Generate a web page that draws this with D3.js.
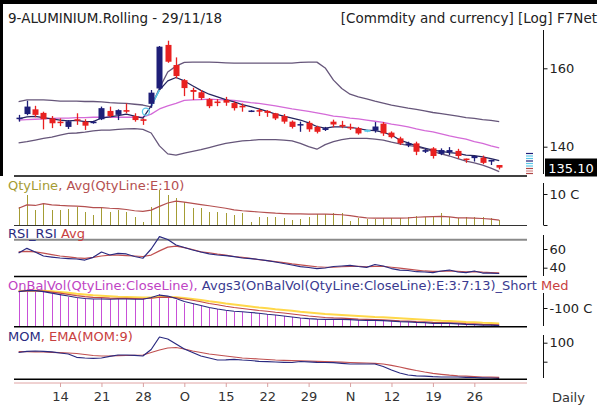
<!DOCTYPE html>
<html>
<head>
<meta charset="utf-8">
<script src="https://cdnjs.cloudflare.com/ajax/libs/d3/7.8.5/d3.min.js"></script>
<style>
body{margin:0;background:#fff;}
svg{display:block;font-family:"DejaVu Sans",Verdana,sans-serif;}
</style>
</head>
<body>
<div id="chart"></div>
<script>
// trading days shown on the chart
var dates = ["09-07","09-10","09-11","09-12","09-13","09-14","09-17","09-18","09-19","09-20",
  "09-21","09-24","09-25","09-26","09-27","09-28","10-01","10-02","10-03","10-04",
  "10-08","10-09","10-10","10-11","10-12","10-15","10-16","10-17","10-18","10-19",
  "10-22","10-23","10-24","10-25","10-26","10-29","10-30","10-31","11-01","11-02",
  "11-05","11-06","11-07","11-08","11-09","11-12","11-13","11-14","11-15","11-16",
  "11-19","11-20","11-21","11-22","11-23","11-26","11-27","11-28","11-29"];
var tickDates = ["09-14","09-21","09-28","10-08","10-15","10-22","10-29","11-05","11-12","11-19","11-26"];
var tickText = ["14","21","28","O","15","22","29","N","12","19","26"];

// candles
var open  = [146.8,148.0,149.2,148.3,146.9,146.1,144.8,146.7,146.1,145.8, 146.7,148.8,147.8,149.0,147.5,146.7,150.6,154.6,166.5,160.9,
  156.8,154.2,153.6,151.8,151.2,151.6,150.8,150.1,148.6,149.0, 148.8,148.2,147.5,146.1,145.2,145.8,144.8,144.05,146.1,145.3,
  144.8,144.5,144.05,143.9,145.6,143.4,142.0,140.4,140.8,138.8, 139.6,138.3,138.7,139.0,137.2,137.3,137.4,136.5,135.7];
var high  = [147.8,151.4,150.1,148.6,147.5,146.9,146.5,148.2,146.7,146.3, 149.9,149.9,149.2,150.7,148.2,146.9,154.2,166.2,167.7,163.0,
  157.1,154.8,154.2,152.1,151.8,152.4,151.2,150.7,149.0,149.4, 149.0,148.3,148.0,146.4,146.1,146.3,145.1,144.8,146.6,146.3,
  145.6,144.8,144.2,146.0,146.0,143.7,142.4,141.2,141.2,139.6, 139.9,139.6,139.9,139.5,137.2,137.8,137.9,136.9,135.7];
var low   = [146.1,147.7,147.2,144.2,144.5,145.0,144.3,145.3,144.05,145.6, 146.5,147.2,146.5,148.2,146.1,145.3,149.6,154.3,161.5,157.3,
  152.6,151.6,151.6,149.5,150.0,150.1,148.9,148.6,148.5,147.5, 147.3,146.5,145.6,144.4,143.6,143.6,143.2,143.8,144.7,144.5,
  144.05,142.9,143.5,143.4,142.6,142.0,140.4,139.9,138.0,138.5, 137.2,138.0,138.0,137.2,136.2,136.5,135.9,135.7,134.7];
var close = [147.1,149.9,147.8,146.7,145.7,145.8,146.2,146.4,145.1,146.1, 149.5,147.5,149.0,148.6,146.5,146.3,153.5,166.0,161.8,157.9,
  154.7,153.7,152.1,150.0,150.8,150.9,149.5,149.7,148.9,148.6, 148.3,146.9,146.1,144.8,145.5,144.2,143.6,144.5,145.4,144.9,
  144.5,143.2,143.6,144.9,143.2,142.3,140.8,140.8,138.8,139.2, 137.8,139.2,139.2,137.8,136.9,137.8,136.2,136.9,135.1];
var flagDays = ["11-07"];

// bands and average on the price panel
var upper = [151.2,151.6,151.6,151.6,151.5,151.3,151.3,151.3,151.2,151.2, 151.1,150.9,150.8,150.7,150.5,150.3,149.8,154.7,159.0,160.6,
  161.6,161.7,161.7,161.7,161.6,161.5,161.4,161.4,161.4,161.4, 161.4,161.4,161.4,161.4,161.6,161.7,161.7,160.1,156.8,154.6,
  153.1,152.4,151.9,151.3,150.8,150.3,149.9,149.5,149.2,148.8, 148.4,148.1,147.8,147.5,147.1,146.9,146.6,146.4,146.1];
var middle = [146.5,146.6,146.7,146.8,146.9,147.0,147.0,147.1,147.1,147.2, 147.2,147.2,147.2,147.2,147.2,147.2,148.0,149.3,150.1,150.7,
  151.5,151.6,151.7,151.8,151.7,151.6,151.5,151.2,150.9,150.7, 150.4,150.1,149.7,149.3,149.0,148.7,148.3,147.9,147.5,147.3,
  147.0,146.8,146.5,146.2,145.9,145.5,145.2,144.8,144.3,143.9, 143.6,143.1,142.6,142.2,141.8,141.2,140.8,140.2,139.7];
var lower = [140.9,141.2,141.6,142.0,142.3,142.8,143.2,143.3,143.5,143.8, 144.0,144.0,144.2,144.3,144.4,144.2,143.3,140.2,138.3,138.0,
  138.5,138.9,139.3,139.8,140.3,140.8,141.1,141.4,141.5,141.7, 141.7,141.7,141.6,141.4,140.8,140.0,139.4,140.5,141.2,141.7,
  142.0,142.0,142.0,141.8,141.6,141.1,140.7,140.3,140.0,139.5, 138.9,138.3,137.8,137.2,136.6,136.2,135.7,135.0,134.2];
var avgLine = [146.8,147.3,147.4,147.1,146.8,146.5,146.3,146.4,146.1,146.1, 147.0,147.3,147.6,148.0,147.5,147.0,150.1,154.2,156.6,157.5,
  156.6,155.3,154.1,153.1,152.4,151.7,151.1,150.4,149.9,149.3, 148.7,148.0,147.5,147.0,146.5,145.8,144.9,144.5,144.8,144.8,
  144.7,144.4,144.0,143.9,143.5,142.8,141.6,140.9,140.2,139.7, 139.2,138.9,138.6,138.4,138.0,137.9,137.6,137.2,136.7];
var cyanSegs = [["10-01","10-02"]];
var signalDay = "09-28", signalValue = 148.6;
var lastPrice = 135.10;

// QtyLine
var qty = [5.9,9.7,4.8,7.0,4.8,4.8,5.1,5.9,4.3,3.2, 5.7,4.3,4.8,4.3,2.7,1.1,5.9,11.3,9.7,8.6, 7.5,5.4,5.4,4.3,4.3,3.8,3.2,3.8,1.1,2.7,
  2.7,2.7,2.2,1.6,2.0,2.7,3.5,3.5,3.8,3.8, 1.3,2.2,1.9,1.9,2.2,2.2,2.2,2.7,3.0,2.5, 2.7,3.8,2.5,2.2,2.5,2.5,2.5,2.2,1.6];
var qtyAvg = [5.4,6.5,6.3,6.9,6.5,6.3,6.2,6.1,5.9,5.6, 5.6,5.4,5.3,5.0,4.6,4.4,4.8,6.0,7.1,7.7, 7.4,7.0,6.6,6.2,5.8,5.4,4.9,4.6,4.4,4.2,
  4.0,3.8,3.7,3.6,3.6,3.5,3.5,3.5,3.4,3.3, 3.0,2.6,2.3,2.2,2.2,2.2,2.2,2.3,2.5,2.6, 2.7,2.8,2.6,2.3,2.3,2.2,2.1,1.9,1.6];

// RSI
var rsi = [55.7,60.7,56.8,52.5,51.4,50.4,49.8,49.3,48.2,51.1, 56.8,53.6,55.4,54.7,52.0,50.1,60.0,73.2,70.2,64.3,
  61.6,58.9,56.8,54.7,53.6,53.0,51.8,50.4,49.8,48.8, 47.5,46.1,44.5,42.9,41.1,40.2,39.1,39.7,41.3,41.8,
  42.4,41.3,40.4,43.4,41.8,39.1,37.5,37.0,35.7,35.4, 34.7,36.5,37.5,35.4,34.7,36.5,34.3,34.3,33.8];
var rsiAvg = [57,57.5,57,55.5,54,52.5,51.5,50.5,50,51, 52.5,53.5,53.5,53,52.5,52,53.5,58,62,63,
  61.5,59.5,57,56,54.5,53.5,52,51,50,48.5, 47.5,46.5,45.5,44,43,42,41,40.5,40.5,41,
  41.5,41.5,41,41.5,41.5,40.5,39.5,38.5,37.5,36.5, 36,36,36.5,36,35.5,35.8,35.2,34.8,34.5];

// On balance volume and its three averages
var obv = [-31,-25,-28,-35,-44,-48,-55,-61,-61,-65, -61,-65,-61,-61,-65,-65,-55,-45,-55,-68, -79,-85,-92,-101,-105,-111,-115,-115,-119,-121,
  -125,-128,-132,-137,-142,-144,-146,-146,-146,-146, -148,-150,-150,-150,-152,-154,-156,-156,-160,-160, -164,-162,-162,-166,-168,-167,-170,-169,-172];
var obvShort = [-34,-30,-30,-34,-40,-46,-52,-58,-62,-64, -64,-65,-64,-64,-65,-65,-58,-48,-52,-62, -74,-82,-90,-98,-104,-109,-113,-115,-118,-121,
  -125,-128,-132,-136,-140,-143,-145,-146,-146,-146, -147,-149,-150,-150,-151,-153,-155,-156,-158,-159, -162,-162,-162,-164,-166,-167,-169,-169,-171];
var obvMed = [-33,-31,-30,-32,-36,-40,-45,-50,-54,-57, -58,-60,-61,-61,-62,-63,-61,-57,-56,-59, -64,-69,-75,-82,-87,-93,-98,-102,-106,-110,
  -113,-117,-120,-124,-128,-132,-135,-138,-140,-141, -143,-145,-146,-147,-148,-150,-152,-153,-155,-156, -158,-159,-160,-161,-163,-164,-166,-167,-168];
var obvLong = [-32,-31,-30,-31,-33,-36,-39,-43,-46,-49, -51,-53,-55,-56,-57,-58,-58,-56,-56,-57, -60,-64,-68,-73,-77,-82,-86,-90,-94,-98,
  -101,-105,-108,-111,-115,-118,-121,-124,-126,-128, -130,-132,-134,-136,-137,-139,-141,-143,-145,-147, -149,-151,-152,-154,-156,-157,-159,-160,-162];

// momentum
var mom = [48.4,54.7,56.3,54.7,52.1,45.8,40.5,23.2,19.5,17.9, 19.5,28.4,35.3,35.3,33.7,30,64.2,130,119.5,93.2,
  66.8,48.4,30,19.5,8.9,10,12.6,8.9,6.3,2.1, 0,-1.6,-3.2,-4.2,1.1,-0.5,-3.2,-4.2,-5.3,-8.4,
  -12.1,-12.1,-12.1,-12.1,-25.3,-43.7,-59.5,-70,-74.2,-76.3, -79,-80.5,-80.5,-80.5,-82.1,-83.2,-84.7,-85.8,-87.4];
var momEma = [52.6,52.6,52.1,51,49.5,47.4,45.8,43.2,37.9,32.6, 30,30,31.6,32.6,33.7,35.3,48.4,61.6,72.1,74.7,
  66.8,56.3,48.4,40.5,35.3,30,24.7,19.5,16.8,14.2, 11.6,8.9,7.4,5.8,4.7,3.7,2.1,1.1,-0.5,-2.6,
  -4.2,-5.8,-6.8,-8.4,-12.1,-18.9,-27.9,-37.4,-46.3,-54.2, -61,-66.3,-71,-74.2,-76.3,-78.4,-80.5,-81.6,-82.1];

var W = 600, H = 411;
var left = 14, right = 527, axisX = 543;
var NAVY = "#1e1e78", RED = "#e82020", CYAN = "#5cc8e8";

var svg = d3.select("#chart").append("svg")
	.attr("width", W)
	.attr("height", H);

var x = d3.scalePoint().domain(dates).range([18.6, 499.2]);
var yP = d3.scaleLog().domain([140, 160]).range([146.7, 68.3]);
var yQ = d3.scaleLinear().domain([0, 10]).range([225, 194]);
var yR = d3.scaleLinear().domain([40, 60]).range([267.7, 249]);
var yO = d3.scaleLinear().domain([-175, -100]).range([326.7, 308]);
var yM = d3.scaleLinear().domain([0, 100]).range([361.7, 342.7]);

function xr(d){ return Math.round(x(d)) + 0.5; }

function drawLine(yS, vals, col, w){
	svg.append("path")
		.datum(vals)
		.attr("fill", "none")
		.attr("stroke", col)
		.attr("stroke-width", w || 1.2)
		.attr("stroke-linejoin", "round")
		.attr("d", d3.line()
			.x(function(d, i){ return x(dates[i]); })
			.y(function(d){ return yS(d); }));
}

function hline(y, col, w){
	svg.append("line")
		.attr("x1", left).attr("x2", right)
		.attr("y1", y).attr("y2", y)
		.attr("stroke", col).attr("stroke-width", w);
}

// thin vertical bars from a base value
function bars(yS, vals, base, col){
	svg.append("g").selectAll("line")
		.data(vals)
	  .enter().append("line")
		.attr("x1", function(d, i){ return xr(dates[i]); })
		.attr("x2", function(d, i){ return xr(dates[i]); })
		.attr("y1", yS(base))
		.attr("y2", function(d){ return yS(d); })
		.attr("stroke", col)
		.attr("stroke-width", 1)
		.attr("shape-rendering", "crispEdges");
}

function sideAxis(yS, vals, labels, top, bottom){
	svg.append("line")
		.attr("x1", axisX + 0.5).attr("x2", axisX + 0.5)
		.attr("y1", top).attr("y2", bottom)
		.attr("stroke", "#111");
	var g = svg.append("g")
		.attr("transform", "translate(" + (axisX + 0.5) + ",0)")
		.call(d3.axisRight(yS).tickValues(vals).tickSize(4).tickPadding(2)
			.tickFormat(function(d, i){ return labels[i]; }));
	g.select(".domain").remove();
	g.selectAll("line").attr("stroke", "#111");
	g.selectAll("text").attr("fill", "#222").style("font-size", "13px")
		.style("font-family", "'DejaVu Sans',Verdana,sans-serif");
}

function title(y, parts){
	var t = svg.append("text").attr("x", 8).attr("y", y).style("font-size", "13px");
	parts.forEach(function(p){
		t.append("tspan").attr("fill", p[1]).text(p[0]);
	});
}

// frame
svg.append("rect").attr("x", 0).attr("y", 0).attr("width", 597).attr("height", 4).attr("fill", "#000");
svg.append("rect").attr("x", 0).attr("y", 0).attr("width", 3).attr("height", 176).attr("fill", "#000");

// ---- price panel
drawLine(yP, upper, "#66567a", 1.3);
drawLine(yP, lower, "#66567a", 1.3);
drawLine(yP, middle, "#d46ad8", 1.3);
drawLine(yP, avgLine, "#24245e", 1.2);

cyanSegs.forEach(function(s){
	var i0 = dates.indexOf(s[0]), i1 = dates.indexOf(s[1]);
	svg.append("line")
		.attr("x1", x(s[0])).attr("y1", yP(avgLine[i0]))
		.attr("x2", x(s[1])).attr("y2", yP(avgLine[i1]))
		.attr("stroke", CYAN).attr("stroke-width", 1.6);
});
svg.append("circle")
	.attr("cx", x(signalDay) + 3).attr("cy", yP(signalValue)).attr("r", 3.5)
	.attr("fill", "none").attr("stroke", CYAN).attr("stroke-width", 1.3);

var candles = dates.map(function(d, i){
	return {d: d, o: open[i], h: high[i], l: low[i], c: close[i]};
});
function ccol(d){
	if (flagDays.indexOf(d.d) >= 0) return CYAN;
	return d.c >= d.o ? NAVY : RED;
}
var cg = svg.append("g");
cg.selectAll("line")
	.data(candles)
  .enter().append("line")
	.attr("x1", function(d){ return xr(d.d); })
	.attr("x2", function(d){ return xr(d.d); })
	.attr("y1", function(d){ return yP(d.h); })
	.attr("y2", function(d){ return yP(d.l); })
	.attr("stroke", ccol)
	.attr("stroke-width", 1.3);
cg.selectAll("rect")
	.data(candles)
  .enter().append("rect")
	.attr("x", function(d){ return xr(d.d) - 3; })
	.attr("width", 6)
	.attr("y", function(d){ return yP(Math.max(d.o, d.c)); })
	.attr("height", function(d){ return Math.max(1.5, Math.abs(yP(d.o) - yP(d.c))); })
	.attr("fill", ccol);

// little colour stripes next to the axis
var stripeCols = [NAVY, CYAN, CYAN, NAVY, CYAN, CYAN, "#b04848", "#d88888", "#b04848"];
stripeCols.forEach(function(c, i){
	svg.append("line")
		.attr("x1", 526).attr("x2", 533)
		.attr("y1", 153.5 + i * 2.5).attr("y2", 153.5 + i * 2.5)
		.attr("stroke", c).attr("stroke-width", 1.2);
});

sideAxis(yP, [140, 160], ["140", "160"], 30, 174);
svg.append("rect").attr("x", 545).attr("y", 158.5).attr("width", 52).attr("height", 18).attr("fill", "#000");
svg.append("text").attr("x", 571).attr("y", 172.5).attr("text-anchor", "middle")
	.attr("fill", "#fff").style("font-size", "13px").text(lastPrice.toFixed(2));

svg.append("text").attr("x", 8).attr("y", 23).attr("fill", "#222").style("font-size", "13.5px")
	.text("9-ALUMINIUM.Rolling - 29/11/18");
svg.append("text").attr("x", 597).attr("y", 23).attr("text-anchor", "end").attr("fill", "#222")
	.style("font-size", "13.5px").text("[Commdity and currency] [Log] F7Net");

hline(176, "#000", 1.6);

// ---- qty panel
bars(yQ, qty, 0, "#a49c34");
drawLine(yQ, qtyAvg, "#b45050", 1.2);
hline(225.5, "#333", 1.2);
sideAxis(yQ, [0, 10], ["", "10 C"], 183, 225);
title(189.5, [["QtyLine", "#a49c34"], [", Avg(QtyLine:E:10)", "#b45050"]]);

// ---- RSI panel
hline(yR(70), "#8a8a8a", 2);
drawLine(yR, rsiAvg, "#c05050", 1.2);
drawLine(yR, rsi, "#2a2a80", 1.2);
hline(276.5, "#000", 1.6);
sideAxis(yR, [40, 60], ["40", "60"], 235, 276);
title(238, [["RSI_RSI", "#2a2a80"], [" Avg", "#c84040"]]);

// ---- OBV panel
bars(yO, obv, -175, "#c850d8");
drawLine(yO, obvLong, "#ffd84a", 2);
drawLine(yO, obvMed, "#c04848", 1.2);
drawLine(yO, obvShort, "#2a2a80", 1.2);
hline(326.7, "#000", 1.6);
sideAxis(yO, [-100], ["-100 C"], 293, 326);
title(289.5, [["OnBalVol(QtyLine:CloseLine), ", "#c044c4"],
	["Avgs3(OnBalVol(QtyLine:CloseLine):E:3:7:13)_Short", "#3a3a90"], [" Med", "#c84040"]]);

// ---- MOM panel
drawLine(yM, momEma, "#c05050", 1.2);
drawLine(yM, mom, "#2a2a80", 1.2);
hline(379.3, "#000", 1.6);
sideAxis(yM, [0, 100], ["", "100"], 335, 378);
title(341, [["MOM", "#2a2a80"], [", EMA(MOM:9)", "#c84040"]]);

// ---- date axis
hline(383, "#e0a4a4", 1);
var xa = svg.append("g")
	.attr("transform", "translate(0,383)")
	.call(d3.axisBottom(x).tickValues(tickDates).tickSize(4).tickPadding(5)
		.tickFormat(function(d, i){ return tickText[i]; }));
xa.select(".domain").remove();
xa.selectAll("line").attr("stroke", "#d8a0a0");
xa.selectAll("text").attr("fill", "#333").style("font-size", "13px")
	.style("font-family", "'DejaVu Sans',Verdana,sans-serif");
svg.append("text").attr("x", 552).attr("y", 402).attr("fill", "#333").style("font-size", "13px").text("Daily");
</script>
</body>
</html>
